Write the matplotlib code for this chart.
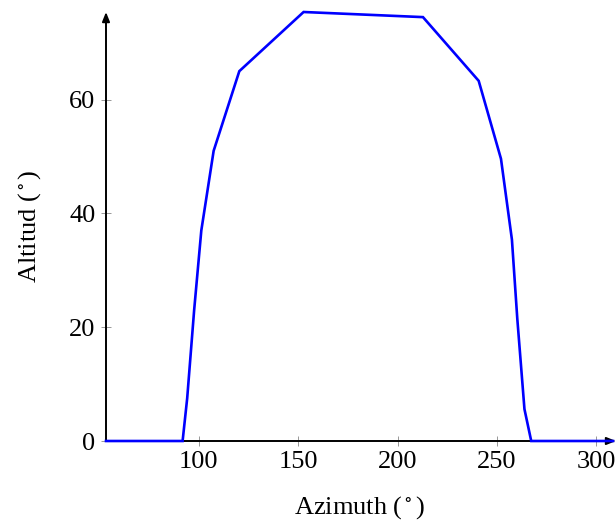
import matplotlib
matplotlib.use("Agg")
import matplotlib.pyplot as plt

azimuth = [53.5, 92.0, 94.3, 97.8, 101.4, 107.6, 120.5, 152.8, 212.8,
           240.8, 252.0, 257.5, 260.2, 263.8, 267.2, 308.3]
altitude = [0, 0, 7.5, 23.0, 37.0, 51.0, 65.0, 75.4, 74.5,
            63.3, 49.6, 35.4, 21.5, 5.6, 0, 0]
xticks = [100, 150, 200, 250, 300]
yticks = [0, 20, 40, 60]

plt.rcParams['font.family'] = ['Liberation Serif', 'DejaVu Serif']
plt.rcParams['mathtext.fontset'] = 'stix'

fig = plt.figure(figsize=(6.16, 5.25), dpi=100)
ax = fig.add_axes([106/616, 1 - 441/525, (613 - 106)/616, (441 - 12)/525])

ax.plot(azimuth, altitude, color='#0000ff', lw=1.9, zorder=3, clip_on=False,
        solid_joinstyle='miter')
ax.set_xlim(min(azimuth), max(azimuth))
ax.set_ylim(0, max(altitude))

for s in ax.spines.values():
    s.set_visible(False)

arrow = dict(arrowstyle='-|>,head_length=0.55,head_width=0.22', lw=1.4,
             color='black', shrinkA=0, shrinkB=0)
ax.annotate('', xy=(1.006, 0), xytext=(0, 0), xycoords='axes fraction',
            arrowprops=arrow, zorder=2)
ax.annotate('', xy=(0, 1.0), xytext=(0, 0), xycoords='axes fraction',
            arrowprops=arrow, zorder=2)

ax.set_xticks(xticks)
ax.set_yticks(yticks)
ax.tick_params(direction='inout', length=7, width=0.6, color='#888888',
               labelsize=19, pad=4)
ax.set_xlabel('Azimuth ($^\\circ$)', fontsize=19, labelpad=15)
ax.set_ylabel('Altitud ($^\\circ$)', fontsize=19, labelpad=19)

fig.savefig('out.png', dpi=100)
